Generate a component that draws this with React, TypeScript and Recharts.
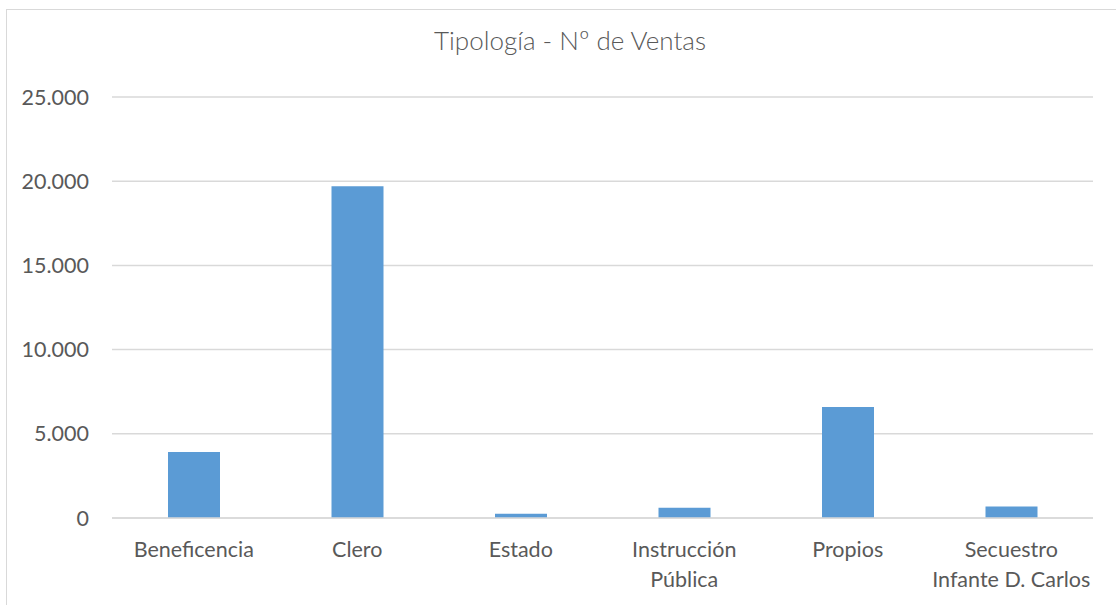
import { Bar, BarChart, CartesianGrid, XAxis, YAxis } from 'recharts';

const categories = [
  'Beneficencia',
  'Clero',
  'Estado',
  'Instrucción Pública',
  'Propios',
  'Secuestro Infante D. Carlos',
];
const ventas = [3920, 19700, 250, 610, 6590, 690];
const yTicks = [0, 5000, 10000, 15000, 20000, 25000];

const data = categories.map((name, i) => ({ name, ventas: ventas[i] }));

const FONT = 'Lato, "Open Sans", sans-serif';
const TEXT = '#595959';
const GRID = '#d9d9d9';

const formatThousands = (v: number) => v.toString().replace(/\B(?=(\d{3})+(?!\d))/g, '.');

// Excel breaks long category names on the first space
function CategoryTick(props: any) {
  const { x, y, payload } = props;
  const label: string = payload.value;
  const lines = label.length > 14 ? [label.slice(0, label.indexOf(' ')), label.slice(label.indexOf(' ') + 1)] : [label];
  return (
    <text x={x} y={y} textAnchor="middle" fill={TEXT} fontFamily={FONT} fontSize={21.5}>
      {lines.map((line, i) => (
        <tspan key={line} x={x} dy={i === 0 ? 39 : 30}>
          {line}
        </tspan>
      ))}
    </text>
  );
}

export default function App() {
  return (
    <div style={{ position: 'fixed', left: 0, top: 0, width: 1116, height: 605, overflow: 'hidden', background: '#fff' }}>
      <div
        style={{
          position: 'absolute',
          left: 6,
          top: 9,
          width: 1140,
          height: 620,
          border: `1px solid ${GRID}`,
          boxSizing: 'border-box',
        }}
      />
      <div
        style={{
          position: 'absolute',
          left: 0,
          top: 25,
          width: 1140,
          textAlign: 'center',
          fontFamily: FONT,
          fontSize: 26,
          fontWeight: 300,
          lineHeight: 1.2,
          color: TEXT,
        }}
      >
        Tipología - Nº de Ventas
      </div>
      <div style={{ position: 'absolute', left: 0, top: 0 }}>
        <BarChart width={1116} height={605} data={data} margin={{ top: 97, right: 23, bottom: 0, left: 0 }}>
          <CartesianGrid vertical={false} stroke={GRID} strokeWidth={1.5} />
          <XAxis
            dataKey="name"
            height={87}
            axisLine={{ stroke: GRID, strokeWidth: 1.5 }}
            tickLine={false}
            tickSize={0}
            tickMargin={0}
            interval={0}
            tick={<CategoryTick />}
          />
          <YAxis
            width={112}
            domain={[0, 25000]}
            ticks={yTicks}
            axisLine={false}
            tickLine={false}
            tickSize={0}
            tickMargin={23}
            tickFormatter={formatThousands}
            tick={{ fill: TEXT, fontFamily: FONT, fontSize: 21.5 }}
          />
          <Bar dataKey="ventas" fill="#5b9bd5" barSize={52} isAnimationActive={false} />
        </BarChart>
      </div>
    </div>
  );
}
